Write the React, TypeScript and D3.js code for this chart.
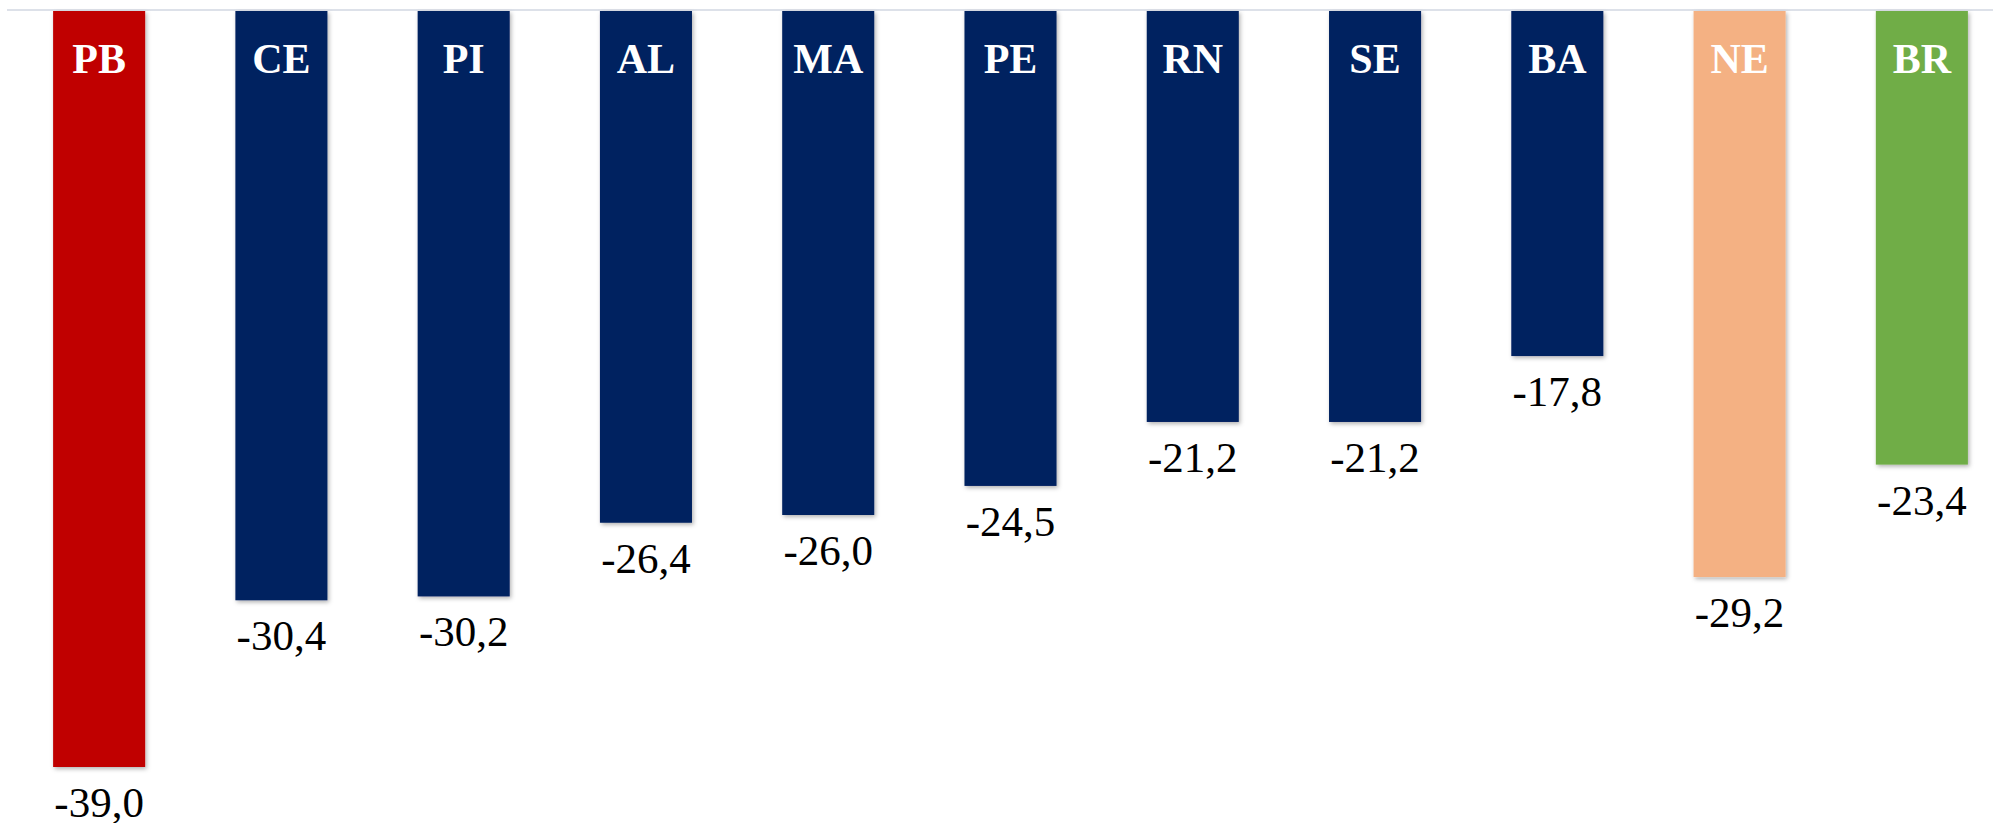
import React from 'react';
import * as d3 from 'd3';

const states = ['PB', 'CE', 'PI', 'AL', 'MA', 'PE', 'RN', 'SE', 'BA', 'NE', 'BR'];
const values = [-39.0, -30.4, -30.2, -26.4, -26.0, -24.5, -21.2, -21.2, -17.8, -29.2, -23.4];
const colors = ['#C00000', '#002060', '#002060', '#002060', '#002060', '#002060', '#002060', '#002060', '#002060', '#F4B183', '#70AD47'];

const App = () => {
    const width = 1993;
    const height = 823;
    const top = 11;

    const x = d3.scaleBand()
        .domain(states)
        .range([8, 2013])
        .paddingInner(0.495)
        .paddingOuter(0.2475);

    const y = d3.scaleLinear()
        .domain([0, -39])
        .range([top, 767]);

    const fmt = (v) => v.toFixed(1).replace('.', ',');
    const serif = "'Liberation Serif', 'DejaVu Serif', serif";

    return (
        <div style={{ position: 'absolute', left: 0, top: 0 }}>
            <svg width={width} height={height} style={{ display: 'block' }}>
                <defs>
                    <filter id="shadow" x="-20%" y="-5%" width="140%" height="110%">
                        <feDropShadow dx="1.5" dy="2" stdDeviation="2" floodColor="#000" floodOpacity="0.3" />
                    </filter>
                </defs>
                <rect width={width} height={height} fill="#fff" />
                <line x1={7} x2={width} y1={10} y2={10} stroke="#dde1e9" strokeWidth={2} />
                {states.map((s, i) => {
                    const bx = x(s);
                    const bw = x.bandwidth();
                    const by = y(values[i]);
                    return (
                        <g key={s}>
                            <rect
                                x={bx}
                                y={top}
                                width={bw}
                                height={by - top}
                                fill={colors[i]}
                                filter="url(#shadow)"
                            />
                            <text
                                x={bx + bw / 2}
                                y={73}
                                textAnchor="middle"
                                fontFamily={serif}
                                fontWeight="bold"
                                fontSize="42"
                                fill="#fff"
                            >
                                {s}
                            </text>
                            <text
                                x={bx + bw / 2}
                                y={by + 50}
                                textAnchor="middle"
                                fontFamily={serif}
                                fontSize="43"
                                fill="#000"
                            >
                                {fmt(values[i])}
                            </text>
                        </g>
                    );
                })}
            </svg>
        </div>
    );
};

export default App;
